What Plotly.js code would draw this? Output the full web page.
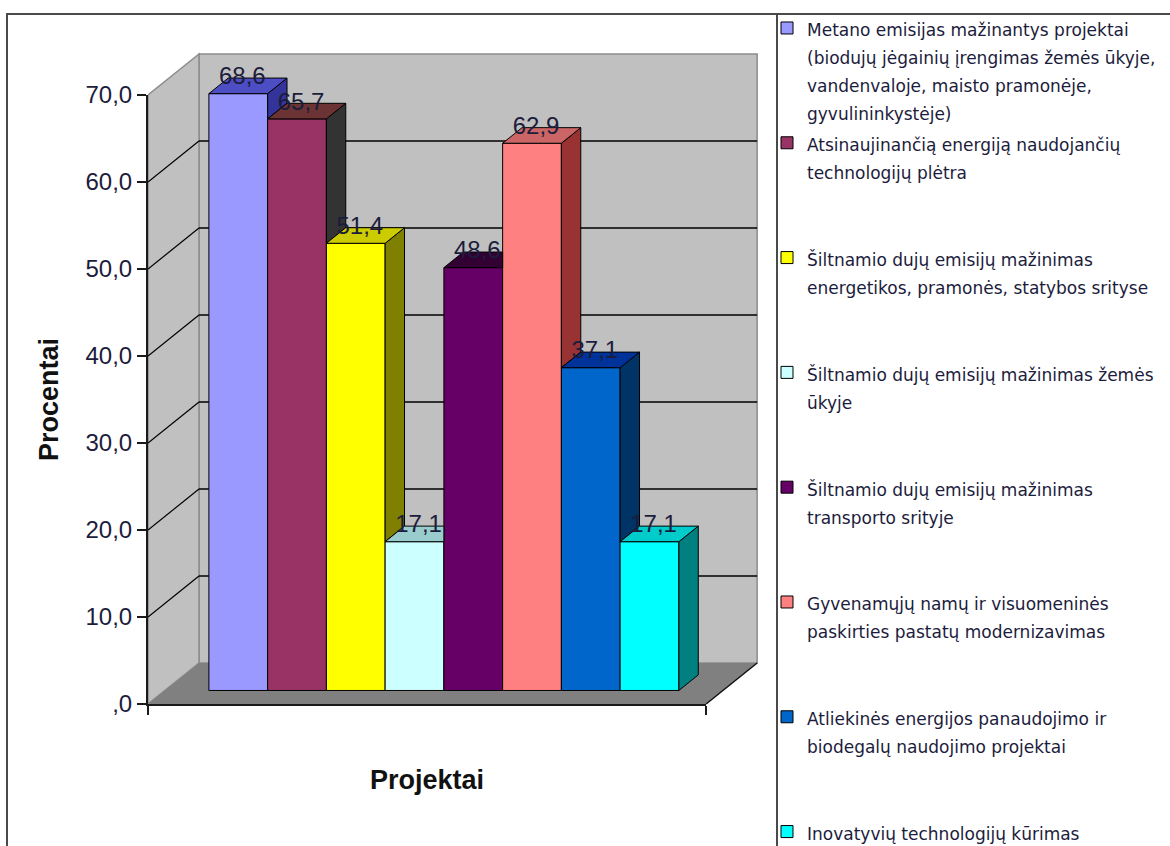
<!DOCTYPE html>
<html>
<head>
<meta charset="utf-8">
<script src="https://cdn.plot.ly/plotly-3.0.1.min.js"></script>
<style>
  html, body { margin: 0; padding: 0; background: #ffffff; }
  #chart { width: 1170px; height: 846px; }
</style>
</head>
<body>
<div id="chart"></div>
<script>
// ---- data -------------------------------------------------------------
const projectNames = [
  "Metano emisijas mažinantys projektai\n(biodujų jėgainių įrengimas žemės ūkyje,\nvandenvaloje, maisto pramonėje,\ngyvulininkystėje)",
  "Atsinaujinančią energiją naudojančių\ntechnologijų plėtra",
  "Šiltnamio dujų emisijų mažinimas\nenergetikos, pramonės, statybos srityse",
  "Šiltnamio dujų emisijų mažinimas žemės\nūkyje",
  "Šiltnamio dujų emisijų mažinimas\ntransporto srityje",
  "Gyvenamųjų namų ir visuomeninės\npaskirties pastatų modernizavimas",
  "Atliekinės energijos panaudojimo ir\nbiodegalų naudojimo projektai",
  "Inovatyvių technologijų kūrimas"
];
const percentShares = [68.6, 65.7, 51.4, 17.1, 48.6, 62.9, 37.1, 17.1];

const frontColors = ["#9999FF", "#993366", "#FFFF00", "#CCFFFF", "#660066", "#FF8080", "#0066CC", "#00FFFF"];
const topColors   = ["#4D4DC4", "#6B3333", "#CCCC00", "#99CCCC", "#330033", "#CC6666", "#003399", "#00CCCC"];
const sideColors  = ["#333399", "#333333", "#808000", "#669999", "#330033", "#993333", "#003366", "#008080"];

const valueTicks = [0, 10, 20, 30, 40, 50, 60, 70];
const valueTickText = [",0", "10,0", "20,0", "30,0", "40,0", "50,0", "60,0", "70,0"];

// ---- 3D box geometry (oblique projection in axis units) ---------------
const FIG_W = 1170, FIG_H = 846;
const PAD_L = 148, PLOT_W = 612, PAD_T = 50, PLOT_H = 662;
const ZERO_PX = 704;              // pixel row of value 0 on the front axis
const PX_PER_SLOT = 58.75, PX_PER_UNIT = 8.7;
const FLOOR_X0 = -0.25, FLOOR_X1 = 9.25;     // front edge of the floor
const DEPTH_X = 51 / PX_PER_SLOT;             // full depth, horizontal part
const DEPTH_Y = 41 / PX_PER_UNIT;             // full depth, vertical part
const BAR_D0 = 0.33, BAR_D1 = 0.71;          // bar depth band (fraction)
const LABEL_D = 0.41;
const V_MAX = 70;

const xRange = [FLOOR_X0, FLOOR_X0 + PLOT_W / PX_PER_SLOT];
const yRange = [-(PAD_T + PLOT_H - ZERO_PX) / PX_PER_UNIT, (ZERO_PX - PAD_T) / PX_PER_UNIT];

const bx = BAR_D0 * DEPTH_X, by = BAR_D0 * DEPTH_Y;          // front plane of bars
const ddx = (BAR_D1 - BAR_D0) * DEPTH_X, ddy = (BAR_D1 - BAR_D0) * DEPTH_Y;

const fmt = v => v.toFixed(1).replace(".", ",");

function legendLabel(name) {
  const lines = name.split("\n");
  while (lines.length < 4) lines.push("\u00a0");
  return lines.map(l => '<span style="font-size:17px">' + l + '</span>').join("<br>");
}

const traces = [];

// front faces: one bar per project
percentShares.forEach((v, i) => {
  traces.push({
    type: "bar",
    name: legendLabel(projectNames[i]),
    x: [i + 1 + bx],
    y: [v],
    base: [by],
    width: [1],
    marker: { color: frontColors[i], line: { color: "#000000", width: 1 } },
    hoverinfo: "skip"
  });
});

// right-hand side faces, only the part not hidden by the next bar
percentShares.forEach((v, i) => {
  const next = i + 1 < percentShares.length ? percentShares[i + 1] : 0;
  const lo = Math.max(0, next);
  if (v <= lo) return;
  const xr = i + 1.5 + bx;
  traces.push({
    type: "scatter", mode: "lines", fill: "toself",
    x: [xr, xr, xr + ddx, xr + ddx, xr],
    y: [by + lo, by + v, by + v + ddy, by + lo + ddy, by + lo],
    fillcolor: sideColors[i], line: { color: "#000000", width: 1 },
    showlegend: false, hoverinfo: "skip"
  });
});

// top faces, trimmed where a taller neighbour stands in front
percentShares.forEach((v, i) => {
  const next = i + 1 < percentShares.length ? percentShares[i + 1] : -1;
  const xl = i + 0.5 + bx, xr = i + 1.5 + bx;
  const hidden = next > v;
  const xs = hidden ? [xl, xr, xr, xl + ddx, xl] : [xl, xr, xr + ddx, xl + ddx, xl];
  const ys = [by + v, by + v, by + v + ddy, by + v + ddy, by + v];
  traces.push({
    type: "scatter", mode: "lines", fill: "toself",
    x: xs, y: ys,
    fillcolor: topColors[i], line: { color: "#000000", width: 1 },
    showlegend: false, hoverinfo: "skip"
  });
});

// value labels above each column
traces.push({
  type: "scatter", mode: "text",
  x: percentShares.map((v, i) => i + 1 + LABEL_D * DEPTH_X),
  y: percentShares.map(v => v + LABEL_D * DEPTH_Y),
  text: percentShares.map(fmt),
  textposition: "top center",
  textfont: { family: "Liberation Sans, Arial, sans-serif", size: 24, color: "#1c1c3c" },
  cliponaxis: false, showlegend: false, hoverinfo: "skip"
});

// placeholder so the front value/category axes get their own subplot
traces.push({ type: "scatter", x: [null], y: [null], xaxis: "x2", yaxis: "y2", showlegend: false, hoverinfo: "skip" });

// ---- walls, floor and gridlines --------------------------------------
const shapes = [];
const bwX0 = FLOOR_X0 + DEPTH_X, bwX1 = FLOOR_X1 + DEPTH_X;

shapes.push({ type: "rect", xref: "x", yref: "y", layer: "below",
  x0: bwX0, x1: bwX1, y0: DEPTH_Y, y1: V_MAX + DEPTH_Y,
  fillcolor: "#C0C0C0", line: { color: "#8C8C8C", width: 1.5 } });

shapes.push({ type: "path", xref: "x", yref: "y", layer: "below",
  path: `M${FLOOR_X0},0 L${bwX0},${DEPTH_Y} L${bwX0},${V_MAX + DEPTH_Y} L${FLOOR_X0},${V_MAX} Z`,
  fillcolor: "#C0C0C0", line: { color: "#8C8C8C", width: 1.5 } });

shapes.push({ type: "path", xref: "x", yref: "y", layer: "below",
  path: `M${FLOOR_X0},0 L${FLOOR_X1},0 L${bwX1},${DEPTH_Y} L${bwX0},${DEPTH_Y} Z`,
  fillcolor: "#808080", line: { width: 0 } });

shapes.push({ type: "line", xref: "x", yref: "y", layer: "below",
  x0: FLOOR_X1, y0: 0, x1: bwX1, y1: DEPTH_Y, line: { color: "#111111", width: 1.5 } });

valueTicks.filter(v => v > 0 && v < V_MAX).forEach(v => {
  shapes.push({ type: "line", xref: "x", yref: "y", layer: "below",
    x0: bwX0, y0: v + DEPTH_Y, x1: bwX1, y1: v + DEPTH_Y, line: { color: "#000000", width: 1.5 } });
  shapes.push({ type: "line", xref: "x", yref: "y", layer: "below",
    x0: FLOOR_X0, y0: v, x1: bwX0, y1: v + DEPTH_Y, line: { color: "#000000", width: 1.2 } });
});

// chart frame and legend frame (paper units of the plot area)
const px2paperX = p => (p - PAD_L) / PLOT_W;
const px2paperY = p => (PAD_T + PLOT_H - p) / PLOT_H;
shapes.push({ type: "rect", xref: "paper", yref: "paper",
  x0: px2paperX(7), x1: px2paperX(1185), y0: px2paperY(14), y1: px2paperY(870),
  line: { color: "#4A4A4A", width: 2 }, fillcolor: "rgba(0,0,0,0)" });
shapes.push({ type: "line", xref: "paper", yref: "paper",
  x0: px2paperX(777), x1: px2paperX(777), y0: px2paperY(14), y1: px2paperY(870),
  line: { color: "#4A4A4A", width: 2 } });

const yFrac = v => (v - yRange[0]) / (yRange[1] - yRange[0]);
const xFrac = x => (x - xRange[0]) / (xRange[1] - xRange[0]);

const axisFont = { family: "Liberation Sans, Arial, sans-serif", size: 24, color: "#1c1c3c" };
const titleFont = { family: "Liberation Sans, Arial, sans-serif", size: 27, color: "#111111", weight: 700 };

const layout = {
  width: FIG_W, height: FIG_H,
  margin: { l: PAD_L, r: FIG_W - PAD_L - PLOT_W, t: PAD_T, b: FIG_H - PAD_T - PLOT_H, autoexpand: false },
  paper_bgcolor: "#ffffff", plot_bgcolor: "rgba(0,0,0,0)",
  font: { family: "Liberation Sans, Arial, sans-serif", color: "#1c1c3c" },
  barmode: "overlay",
  hovermode: false,
  xaxis: { range: xRange, visible: false, fixedrange: true },
  yaxis: { range: yRange, visible: false, fixedrange: true },
  xaxis2: {
    domain: [0, xFrac(FLOOR_X1)], range: [0, 1], anchor: "y2",
    showline: true, linecolor: "#1a1a1a", linewidth: 2,
    ticks: "outside", ticklen: 9, tickwidth: 2, tickcolor: "#1a1a1a",
    tickvals: [0, 1], showticklabels: false, showgrid: false, zeroline: false,
    title: { text: "Projektai", font: titleFont, standoff: 56 },
    fixedrange: true
  },
  yaxis2: {
    domain: [yFrac(0), yFrac(V_MAX)], range: [0, V_MAX], anchor: "x2",
    showline: true, linecolor: "#1a1a1a", linewidth: 2,
    ticks: "outside", ticklen: 9, tickwidth: 2, tickcolor: "#1a1a1a",
    tickvals: valueTicks, ticktext: valueTickText, tickfont: axisFont,
    showgrid: false, zeroline: false,
    title: { text: "Procentai", font: titleFont, standoff: 19 },
    fixedrange: true
  },
  showlegend: true,
  legend: {
    xref: "container", yref: "container",
    x: 767 / FIG_W, y: 1 - 7.5 / FIG_H, xanchor: "left", yanchor: "top",
    bgcolor: "rgba(0,0,0,0)", borderwidth: 0,
    font: { family: "DejaVu Sans, sans-serif", size: 21.5, color: "#1c1c3c" },
    valign: "top", traceorder: "normal", maxheight: 2000
  },
  shapes: shapes
};

Plotly.newPlot("chart", traces, layout, { staticPlot: true, displayModeBar: false });
</script>
</body>
</html>
